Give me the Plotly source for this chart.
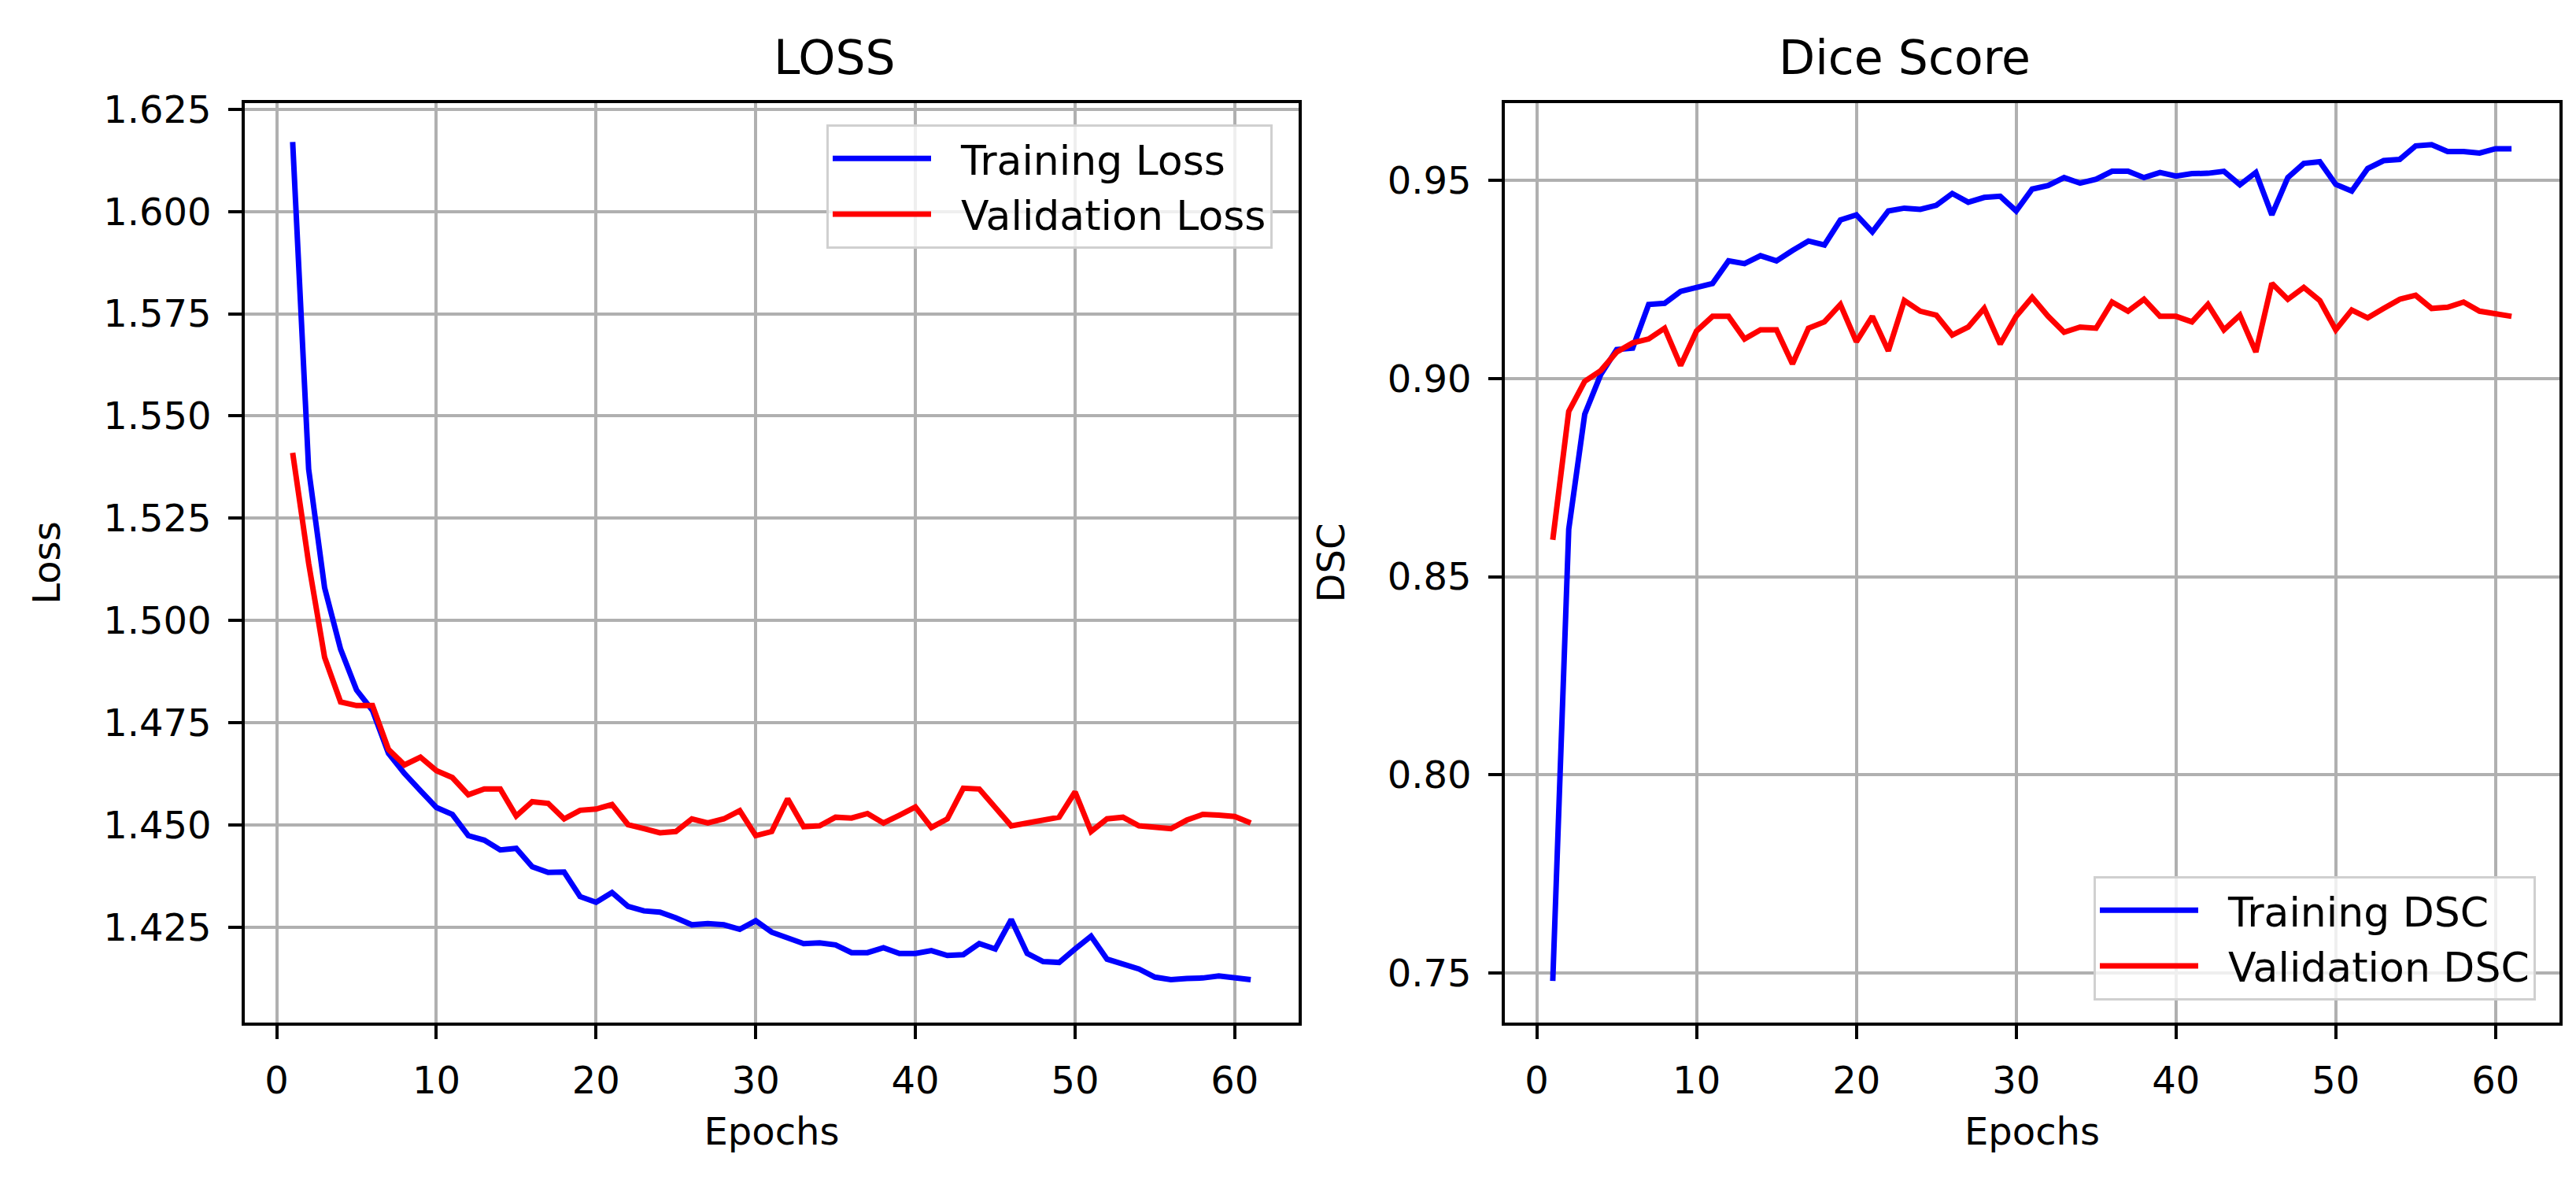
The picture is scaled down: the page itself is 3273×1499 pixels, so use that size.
import plotly.graph_objects as go

# epochs and values
epochs = list(range(1, 62))

train_loss = [1.617, 1.537, 1.508, 1.493, 1.483, 1.478, 1.4675, 1.4626, 1.4584, 1.4543,
              1.4526, 1.4474, 1.4463, 1.4439, 1.4443, 1.4398, 1.4384, 1.4385, 1.4325, 1.4311,
              1.4335, 1.4301, 1.4290, 1.4287, 1.4273, 1.4256, 1.4259, 1.4256, 1.4245, 1.4266,
              1.4238, 1.4224, 1.4210, 1.4212, 1.4207, 1.4188, 1.4188, 1.4200, 1.4186, 1.4186,
              1.4193, 1.4181, 1.4183, 1.4210, 1.4197, 1.4269, 1.4186, 1.4166, 1.4164, 1.4197,
              1.4228, 1.4172, 1.4159, 1.4148, 1.4128, 1.4122, 1.4125, 1.4126, 1.4131, 1.4128,
              1.4122]
val_loss = [1.541, 1.514, 1.491, 1.4801, 1.4792, 1.4792, 1.4685, 1.4647, 1.4666, 1.4633,
            1.4616, 1.4574, 1.4588, 1.4588, 1.4522, 1.4557, 1.4553, 1.4515, 1.4536, 1.4539,
            1.4550, 1.4501, 1.4491, 1.4481, 1.4484, 1.4515, 1.4505, 1.4515, 1.4535, 1.4474,
            1.4484, 1.4564, 1.4496, 1.4498, 1.4519, 1.4517, 1.4528, 1.4505, 1.4524, 1.4544,
            1.4494, 1.4515, 1.4590, 1.4588, 1.4543, 1.4498, 1.4505, 1.4512, 1.4519, 1.4581,
            1.4484, 1.4515, 1.4519, 1.4498, 1.4494, 1.4491, 1.4512, 1.4526, 1.4524, 1.4521,
            1.4505]
train_dsc = [0.748, 0.862, 0.891, 0.901, 0.9073, 0.9077, 0.9187, 0.9190, 0.9220, 0.9230,
             0.9240, 0.9297, 0.9290, 0.9310, 0.9297, 0.9323, 0.9347, 0.9337, 0.9400, 0.9413,
             0.9370, 0.9423, 0.9430, 0.9427, 0.9437, 0.9467, 0.9445, 0.9457, 0.9460, 0.9423,
             0.9478, 0.9487, 0.9507, 0.9493, 0.9503, 0.9523, 0.9523, 0.9507, 0.9520, 0.9511,
             0.9517, 0.9518, 0.9523, 0.9489, 0.9520, 0.9413, 0.9507, 0.9543, 0.9547, 0.9490,
             0.9473, 0.9530, 0.9550, 0.9553, 0.9587, 0.9590, 0.9573, 0.9573, 0.9569, 0.9580,
             0.9580]
val_dsc = [0.8593, 0.8917, 0.8993, 0.9020, 0.9067, 0.9090, 0.9100, 0.9127, 0.9033, 0.9120,
           0.9157, 0.9157, 0.9100, 0.9123, 0.9123, 0.9037, 0.9127, 0.9143, 0.9187, 0.9093,
           0.9157, 0.9070, 0.9197, 0.9170, 0.9160, 0.9110, 0.9130, 0.9177, 0.9087, 0.9157,
           0.9205, 0.9157, 0.9117, 0.9130, 0.9127, 0.9193, 0.9170, 0.9200, 0.9157, 0.9157,
           0.9143, 0.9187, 0.9123, 0.9160, 0.9067, 0.9240, 0.9200, 0.9230, 0.9197, 0.9123,
           0.9173, 0.9153, 0.9177, 0.9200, 0.9210, 0.9177, 0.9180, 0.9193, 0.9170, 0.9163,
           0.9157]

W, H = 3273, 1499
FONT = "DejaVu Sans"
FS = 48
LW = 7
GAP = "\u00a0\u00a0"  # space between legend handle and its label

fig = go.Figure()
fig.add_trace(go.Scatter(x=epochs, y=train_loss, mode="lines", name=GAP + "Training Loss",
                         line=dict(color="blue", width=LW), xaxis="x", yaxis="y",
                         legend="legend", legendgroup="a"))
fig.add_trace(go.Scatter(x=epochs, y=val_loss, mode="lines", name=GAP + "Validation Loss",
                         line=dict(color="red", width=LW), xaxis="x", yaxis="y",
                         legend="legend", legendgroup="b"))
fig.add_trace(go.Scatter(x=epochs, y=train_dsc, mode="lines", name=GAP + "Training DSC",
                         line=dict(color="blue", width=LW), xaxis="x2", yaxis="y2",
                         legend="legend2", legendgroup="c"))
fig.add_trace(go.Scatter(x=epochs, y=val_dsc, mode="lines", name=GAP + "Validation DSC",
                         line=dict(color="red", width=LW), xaxis="x2", yaxis="y2",
                         legend="legend2", legendgroup="d"))

ax = dict(showline=True, mirror=True, linecolor="black", linewidth=3.5,
          showgrid=True, gridcolor="#b0b0b0", gridwidth=3.5, zeroline=False,
          ticks="outside", ticklen=17, tickwidth=3.5, tickcolor="black",
          tickfont=dict(size=FS, color="black"), automargin=False)

ydom = [1 - 1291 / H, 1 - 123 / H]
leg = dict(bgcolor="rgba(255,255,255,0.8)", bordercolor="#d0d0d0", borderwidth=3,
           font=dict(size=52, color="black"), itemwidth=125, tracegroupgap=20,
           traceorder="normal")

fig.update_layout(
    width=W, height=H,
    margin=dict(l=0, r=0, t=0, b=0),
    paper_bgcolor="white", plot_bgcolor="white",
    font=dict(family=FONT, color="black"),
    xaxis=dict(ax, domain=[303 / W, 1642 / W], range=[-2, 64], dtick=10, anchor="y",
               ticklabelstandoff=12,
               title=dict(text="Epochs", font=dict(size=FS), standoff=22)),
    yaxis=dict(ax, domain=ydom, range=[1.4017, 1.6265], dtick=0.025, tick0=1.425,
               tickformat=".3f", anchor="x", ticklabelstandoff=12,
               title=dict(text="Loss", font=dict(size=FS), standoff=40)),
    xaxis2=dict(ax, domain=[1904 / W, 3244 / W], range=[-2, 64], dtick=10, anchor="y2",
                ticklabelstandoff=12,
                title=dict(text="Epochs", font=dict(size=FS), standoff=22)),
    yaxis2=dict(ax, domain=ydom, range=[0.7375, 0.9695], dtick=0.05, tick0=0.75,
                tickformat=".2f", anchor="x2", ticklabelstandoff=12,
                title=dict(text="DSC", font=dict(size=FS), standoff=40)),
    legend=dict(leg, x=1609 / W, xanchor="right", y=1 - 150 / H, yanchor="top"),
    legend2=dict(leg, x=3214 / W, xanchor="right", y=1 - 1263 / H, yanchor="bottom"),
    annotations=[
        dict(text="LOSS", x=(303 + 1642) / 2 / W, y=1 - 65 / H, xref="paper", yref="paper",
             showarrow=False, font=dict(size=60, color="black"), yanchor="middle"),
        dict(text="Dice Score", x=(1904 + 3244) / 2 / W, y=1 - 65 / H, xref="paper", yref="paper",
             showarrow=False, font=dict(size=60, color="black"), yanchor="middle"),
    ],
)

fig.write_html("out.html")
